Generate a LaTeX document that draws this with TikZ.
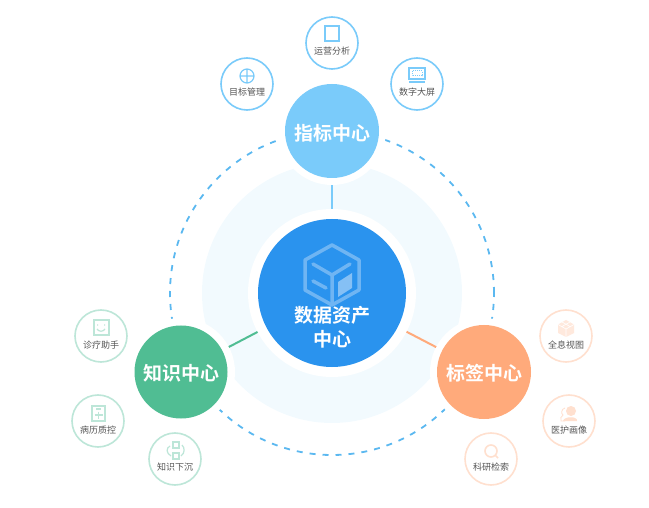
\documentclass[tikz,border=0pt]{standalone}
\usepackage{fontspec}
\setmainfont{Noto Sans CJK SC}[BoldFont=* Bold]
\definecolor{hubblue}{HTML}{7ACBFA}
\definecolor{hubgreen}{HTML}{50BD93}
\definecolor{huborange}{HTML}{FFAA7B}
\definecolor{coreblue}{HTML}{2A93EE}
\definecolor{cubeblue}{HTML}{6FB5F3}
\definecolor{paleblue}{HTML}{F2FAFE}
\definecolor{dashblue}{HTML}{5BB8F0}
\definecolor{leafgreen}{HTML}{BDE6D8}
\definecolor{leaforange}{HTML}{FFE0CF}
\definecolor{leaftextgray}{HTML}{555555}
\tikzset{
	disc/.style={circle, inner sep=0pt, outer sep=0pt},
	ringnode/.style={disc, fill=white, minimum size=108pt},
	hubnode/.style={disc, minimum size=#1},
	hubtext/.style={inner sep=0pt, align=center, font=\fontsize{19}{24}\selectfont\bfseries, text=white},
	leafnode/.style={disc, draw=#1, fill=white, line width=1.6pt, minimum size=52pt},
	leaftext/.style={inner sep=0pt, yshift=-0.7pt, font=\fontsize{9}{11}\selectfont, text=leaftextgray},
	icon/.style={draw=#1, line width=1.2pt},
}
\begin{document}
\begin{tikzpicture}[x=1pt, y=-1pt]
	\useasboundingbox (0,0) rectangle (649,508);
	
	% Background
	\node (palering) [disc, fill=paleblue, minimum size=260pt] at (332,293) {};
	\node (dashring) [disc, draw=dashblue, line width=1.8pt, dash pattern=on 6pt off 7pt, minimum size=324pt] at (332,293) {};
	
	% White rings
	\node (corering) [disc, fill=white, minimum size=168pt] at (332,293) {};
	\node (topring) [ringnode] at (332,131) {};
	\node (leftring) [ringnode] at (181,372) {};
	\node (rightring) [ringnode] at (484,372) {};
	
	% Connectors
	\draw[hubblue, line width=2pt] (corering) -- (topring);
	\draw[hubgreen, line width=2pt] (corering) -- (leftring);
	\draw[huborange, line width=2pt] (corering) -- (rightring);
	
	% Core
	\node (core) [disc, fill=coreblue, minimum size=148pt] at (332,293) {};
	\draw[cubeblue, line width=3.5pt, line join=round] (332,245) -- (359,260) -- (359,290) -- (332,305) -- (305,290) -- (305,260) -- cycle;
	\draw[cubeblue, line width=3.5pt, line cap=round, line join=round] (313,264) -- (332,275) -- (350,264) (332,275) -- (332,304) (313,281) -- (326,288);
	\fill[cubeblue!85!white] (338,282) -- (352,273) -- (352,288) -- (338,297) -- cycle;
	\node (coretext) [hubtext] at (332,327.5) {数据资产\\中心};
	
	% Hubs
	\node (tophub) [hubnode=94pt, fill=hubblue] at (332,131) {};
	\node (tophubtext) [hubtext] at (332,133) {指标中心};
	\node (lefthub) [hubnode=93pt, fill=hubgreen] at (181,372) {};
	\node (lefthubtext) [hubtext] at (181,373.5) {知识中心};
	\node (righthub) [hubnode=94pt, fill=huborange] at (484,372) {};
	\node (righthubtext) [hubtext] at (484,373.5) {标签中心};
	
	% Top leaves
	\node (yunying) [leafnode=hubblue] at (332,43) {};
	\node (yunyingtext) [leaftext] at (332,50) {运营分析};
	\draw[icon=hubblue] (325,26) rectangle (339,41);
	
	\node (mubiao) [leafnode=hubblue] at (247,84) {};
	\node (mubiaotext) [leaftext] at (247,91) {目标管理};
	\draw[icon=hubblue] (247,76) circle (7) (240,76) -- (254,76) (247,69) -- (247,83);
	
	\node (shuzi) [leafnode=hubblue] at (417,84) {};
	\node (shuzitext) [leaftext] at (417,91) {数字大屏};
	\draw[icon=hubblue] (409,68) rectangle (425,79) (409,82) -- (425,82);
	\draw[hubblue, line width=1pt, densely dotted] (412,71) rectangle (422,76);
	
	% Left leaves
	\node (zhenliao) [leafnode=leafgreen] at (101,336) {};
	\node (zhenliaotext) [leaftext] at (101,344) {诊疗助手};
	\draw[icon=leafgreen] (94,320) rectangle (109,335);
	\draw[icon=leafgreen] (97,325) -- (98,325) (104,325) -- (105,325) (97,329) .. controls (99,332) and (103,332) .. (105,329);
	
	\node (bingli) [leafnode=leafgreen] at (98,421) {};
	\node (binglitext) [leaftext] at (98,429) {病历质控};
	\draw[icon=leafgreen] (92,406) rectangle (105,421) (96,409) -- (101,409) (94.5,415) -- (102.5,415) (98.5,411.5) -- (98.5,418.5);
	
	\node (zhishi) [leafnode=leafgreen] at (175,459) {};
	\node (zhishitext) [leaftext] at (175,466) {知识下沉};
	\draw[icon=leafgreen] (173,442) rectangle (179,448) (173,453) rectangle (179,459);
	\draw[icon=leafgreen] (170,446) .. controls (166,448) and (166,453) .. (171,456) (182,445) .. controls (185,448) and (185,453) .. (181,456);
	
	% Right leaves
	\node (quanxi) [leafnode=leaforange] at (566,336) {};
	\node (quanxitext) [leaftext] at (566,344) {全息视图};
	\fill[leaforange!70!white] (566,320) -- (574,324.5) -- (574,333) -- (566,337) -- (558,333) -- (558,324.5) -- cycle;
	\draw[white, line width=0.6pt] (558,324.5) -- (566,329) -- (574,324.5) (566,329) -- (566,337) (562,322) -- (570,326.5) (570,322) -- (562,326.5);
	
	\node (yihu) [leafnode=leaforange] at (569,421) {};
	\node (yihutext) [leaftext] at (569,429) {医护画像};
	\fill[leaforange] (571,411) circle (5) (563,421) .. controls (564,416) and (578,416) .. (577,421) -- cycle;
	\draw[leaforange, line width=0.8pt] (565,408) .. controls (561,409) and (561,414) .. (563,415) .. controls (560,416) and (561,419) .. (561,421) -- (565,421);
	
	\node (keyan) [leafnode=leaforange] at (491,459) {};
	\node (keyantext) [leaftext] at (491,466) {科研检索};
	\draw[leaforange, line width=1.6pt] (491,451) circle (6) (495.5,455.5) -- (498,458);
	
\end{tikzpicture}
\end{document}
